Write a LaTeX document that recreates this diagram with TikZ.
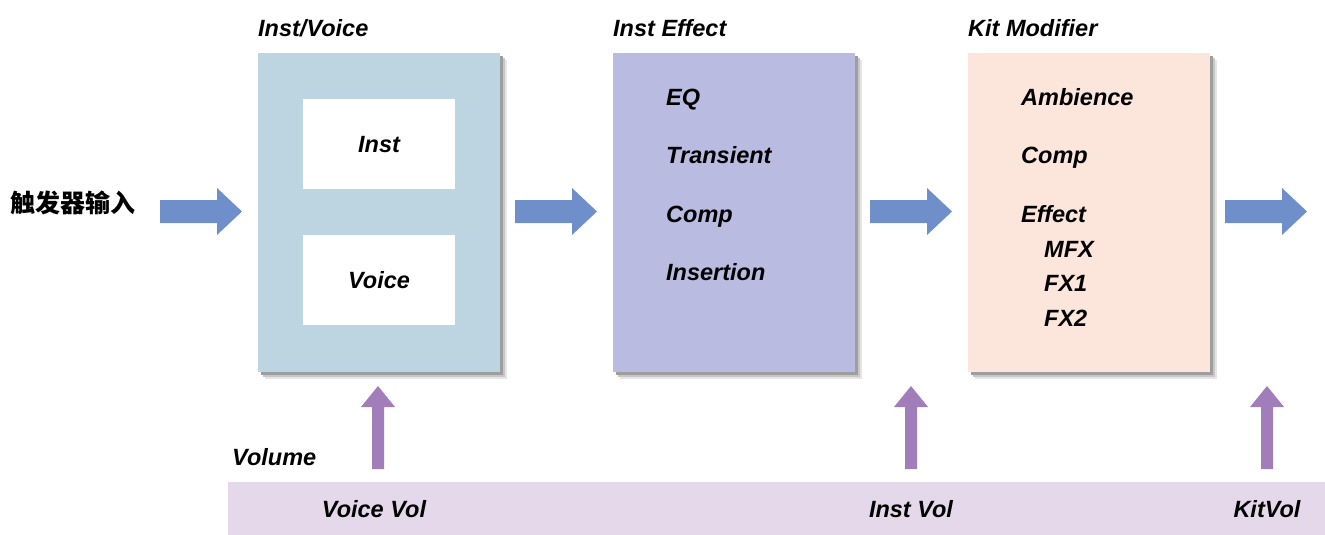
\documentclass[tikz,border=0pt]{standalone}
\usepackage{fontspec}
\setmainfont{Liberation Sans}
\newfontfamily\cjk{Noto Sans CJK SC}
\usetikzlibrary{shadows}
\definecolor{boxA}{HTML}{BCD5E0}
\definecolor{boxB}{HTML}{B9BCE0}
\definecolor{boxC}{HTML}{FCE5DB}
\definecolor{arrB}{HTML}{6F8FCA}
\definecolor{arrP}{HTML}{A17DBA}
\definecolor{band}{HTML}{E4D8EA}
\newcommand\rfat[1]{\fill[arrB] (#1) ++(0,-11.5) -- ++(57,0) -- ++(0,-12) -- ++(25,23.5) -- ++(-25,23.5) -- ++(0,-12) -- ++(-57,0) -- cycle;}
\newcommand\ufat[1]{\fill[arrP] (#1) ++(-6,0) -- ++(0,-62) -- ++(-11,0) -- ++(17,-21) -- ++(17,21) -- ++(-11,0) -- ++(0,62) -- cycle;}
\begin{document}
\begin{tikzpicture}[x=1pt,y=-1pt,
  lbl/.style={font=\fontsize{23.5}{27}\selectfont\bfseries\itshape, inner sep=0pt, text height=17pt, text depth=0pt},
  shad/.style={general shadow={fill=black!10, shadow xshift=7pt, shadow yshift=-7pt},
               general shadow={fill=black!22, shadow xshift=5pt, shadow yshift=-5pt},
               general shadow={fill=black!38, shadow xshift=3pt, shadow yshift=-3pt}},
  bigbox/.style={shad, minimum width=242pt, minimum height=319pt, inner sep=0pt},
  inbox/.style={fill=white, minimum width=152pt, minimum height=90pt, inner sep=0pt, lbl}]
\useasboundingbox (0,0) rectangle (1325,535);
% boxes
\node[bigbox, fill=boxA] (iv) at (379,212.5) {};
\node[bigbox, fill=boxB] (ie) at (734,212.5) {};
\node[bigbox, fill=boxC] (km) at (1089,212.5) {};
\node[inbox] (inst) at (379,144) {Inst};
\node[inbox] (voice) at (379,280) {Voice};
% titles
\node[lbl, anchor=west] (t1) at (258,28) {Inst/Voice};
\node[lbl, anchor=west] (t2) at (613,28) {Inst Effect};
\node[lbl, anchor=west] (t3) at (968,28) {Kit Modifier};
% inst effect items
\node[lbl, anchor=west] (eq) at (666,97) {EQ};
\node[lbl, anchor=west] (tr) at (666,155) {Transient};
\node[lbl, anchor=west] (cp) at (666,214) {Comp};
\node[lbl, anchor=west] (ins) at (666,272) {Insertion};
% kit modifier items
\node[lbl, anchor=west] (amb) at (1021,97) {Ambience};
\node[lbl, anchor=west] (cp2) at (1021,155) {Comp};
\node[lbl, anchor=west] (eff) at (1021,214) {Effect};
\node[lbl, anchor=west] (mfx) at (1044,249) {MFX};
\node[lbl, anchor=west] (fx1) at (1044,283) {FX1};
\node[lbl, anchor=west] (fx2) at (1044,318) {FX2};
% input text
\node[anchor=west, inner sep=0pt, font=\cjk\bfseries\fontsize{25}{28}\selectfont] (in) at (10,203) {触发器输入};
% volume band
\fill[band] (228,482) rectangle (1325,535);
\node[lbl, anchor=west] (vol) at (232,457) {Volume};
\node[lbl] (vv) at (374,509) {Voice Vol};
\node[lbl] (ivl) at (911,509) {Inst Vol};
\node[lbl] (kv) at (1267,509) {KitVol};
% fat arrows
\coordinate (a1) at (160,211.5);
\coordinate (a2) at (515,211.5);
\coordinate (a3) at (870,211.5);
\coordinate (a4) at (1225,211.5);
\rfat{a1}\rfat{a2}\rfat{a3}\rfat{a4}
\coordinate (u1) at (378,469);
\coordinate (u2) at (911,469);
\coordinate (u3) at (1267,469);
\ufat{u1}\ufat{u2}\ufat{u3}
\end{tikzpicture}
\end{document}
